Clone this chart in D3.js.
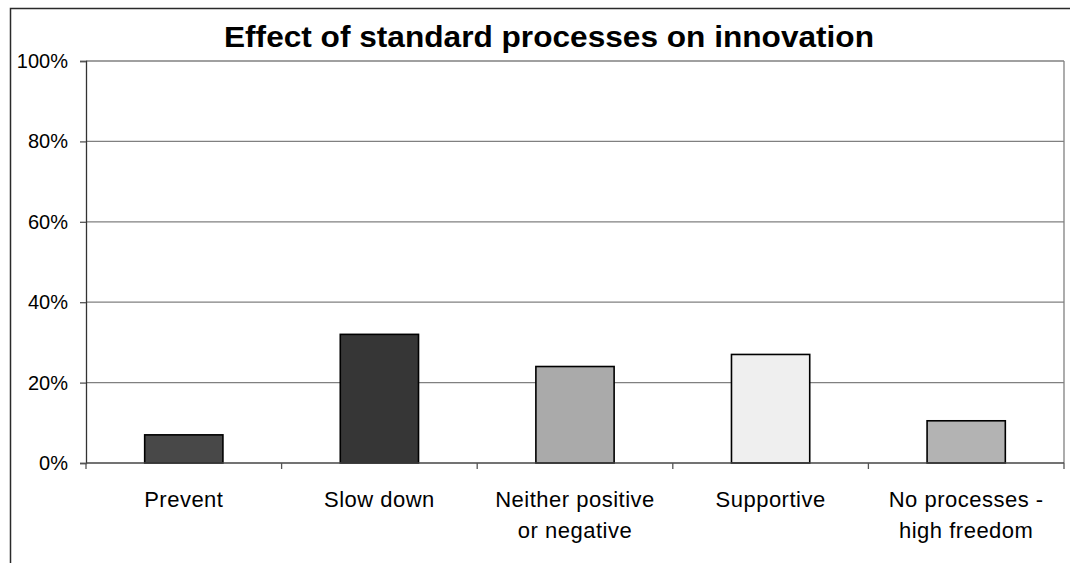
<!DOCTYPE html>
<html>
<head>
<meta charset="utf-8">
<script src="https://cdn.jsdelivr.net/npm/d3@7"></script>
<style>
  html, body { margin: 0; padding: 0; background: #fff; }
  svg { display: block; font-family: "Liberation Sans", Arial, sans-serif; }
</style>
</head>
<body>
<svg id="chart" width="1070" height="563"></svg>
<script>
// Survey answers: how standard processes affect innovation
const categories = [
  ["Prevent"],
  ["Slow down"],
  ["Neither positive", "or negative"],
  ["Supportive"],
  ["No processes -", "high freedom"]
];
const shares = [0.07, 0.32, 0.24, 0.27, 0.105];
const barColors = ["#484848", "#363636", "#aaaaaa", "#efefef", "#b3b3b3"];
const yTickValues = [0, 0.2, 0.4, 0.6, 0.8, 1.0];
const chartTitle = "Effect of standard processes on innovation";

const svg = d3.select("#chart");
const plot = { left: 86, right: 1064, top: 61, bottom: 463 };

// outer frame of the chart object
svg.append("path")
  .attr("d", "M10.5,1070 V8.5 H1070")
  .attr("fill", "none")
  .attr("stroke", "#2a2a2a")
  .attr("stroke-width", 1.5);

const labels = categories.map(c => c.join(" "));
const x = d3.scaleBand()
  .domain(labels)
  .range([plot.left, plot.right])
  .paddingInner(0.6)
  .paddingOuter(0.3);

const y = d3.scaleLinear()
  .domain([0, 1])
  .range([plot.bottom, plot.top]);

// horizontal gridlines
svg.append("g")
  .selectAll("line")
  .data(yTickValues.filter(v => v > 0))
  .join("line")
  .attr("x1", plot.left).attr("x2", plot.right)
  .attr("y1", d => y(d)).attr("y2", d => y(d))
  .attr("stroke", "#808080")
  .attr("stroke-width", 1.3);

// right edge of the plot area
svg.append("line")
  .attr("x1", plot.right).attr("x2", plot.right)
  .attr("y1", plot.top).attr("y2", plot.bottom)
  .attr("stroke", "#808080")
  .attr("stroke-width", 1.3);

// bars
svg.append("g")
  .selectAll("rect")
  .data(shares)
  .join("rect")
  .attr("x", (d, i) => x(labels[i]))
  .attr("width", x.bandwidth())
  .attr("y", d => y(d))
  .attr("height", d => y(0) - y(d))
  .attr("fill", (d, i) => barColors[i])
  .attr("stroke", "#000")
  .attr("stroke-width", 1.6);

// y axis
const yAxis = svg.append("g")
  .attr("transform", `translate(${plot.left},0)`)
  .call(d3.axisLeft(y).tickValues(yTickValues).tickFormat(d3.format(".0%")).tickSize(6).tickPadding(12));
yAxis.select(".domain").attr("stroke", "#333").attr("stroke-width", 1.3);
yAxis.selectAll(".tick line").attr("stroke", "#555").attr("stroke-width", 1.3);
yAxis.selectAll(".tick text")
  .attr("font-family", "Liberation Sans, Arial, sans-serif")
  .attr("font-size", 20)
  .attr("fill", "#000");

// x axis: tick marks sit on the category boundaries
const step = x.step();
const boundaries = d3.range(categories.length + 1).map(i => plot.left + i * (plot.right - plot.left) / categories.length);
const xAxis = svg.append("g");
xAxis.append("line")
  .attr("x1", plot.left).attr("x2", plot.right)
  .attr("y1", plot.bottom).attr("y2", plot.bottom)
  .attr("stroke", "#444").attr("stroke-width", 1.5);
xAxis.selectAll("line.tk")
  .data(boundaries)
  .join("line")
  .attr("class", "tk")
  .attr("x1", d => d).attr("x2", d => d)
  .attr("y1", plot.bottom).attr("y2", plot.bottom + 6)
  .attr("stroke", "#555").attr("stroke-width", 1.3);

// category labels (one or two lines)
const catText = xAxis.selectAll("text")
  .data(categories)
  .join("text")
  .attr("text-anchor", "middle")
  .attr("font-size", 22)
  .attr("letter-spacing", 0.5)
  .attr("fill", "#000")
  .attr("transform", (d, i) => `translate(${x(labels[i]) + x.bandwidth() / 2},507)`);
catText.selectAll("tspan")
  .data(d => d)
  .join("tspan")
  .attr("x", 0)
  .attr("y", (d, i) => i * 31)
  .text(d => d);

// title
svg.append("text")
  .attr("x", 549)
  .attr("y", 47)
  .attr("text-anchor", "middle")
  .attr("font-size", 29)
  .attr("font-weight", "bold")
  .attr("textLength", 650)
  .attr("lengthAdjust", "spacingAndGlyphs")
  .attr("fill", "#000")
  .text(chartTitle);
</script>
</body>
</html>
